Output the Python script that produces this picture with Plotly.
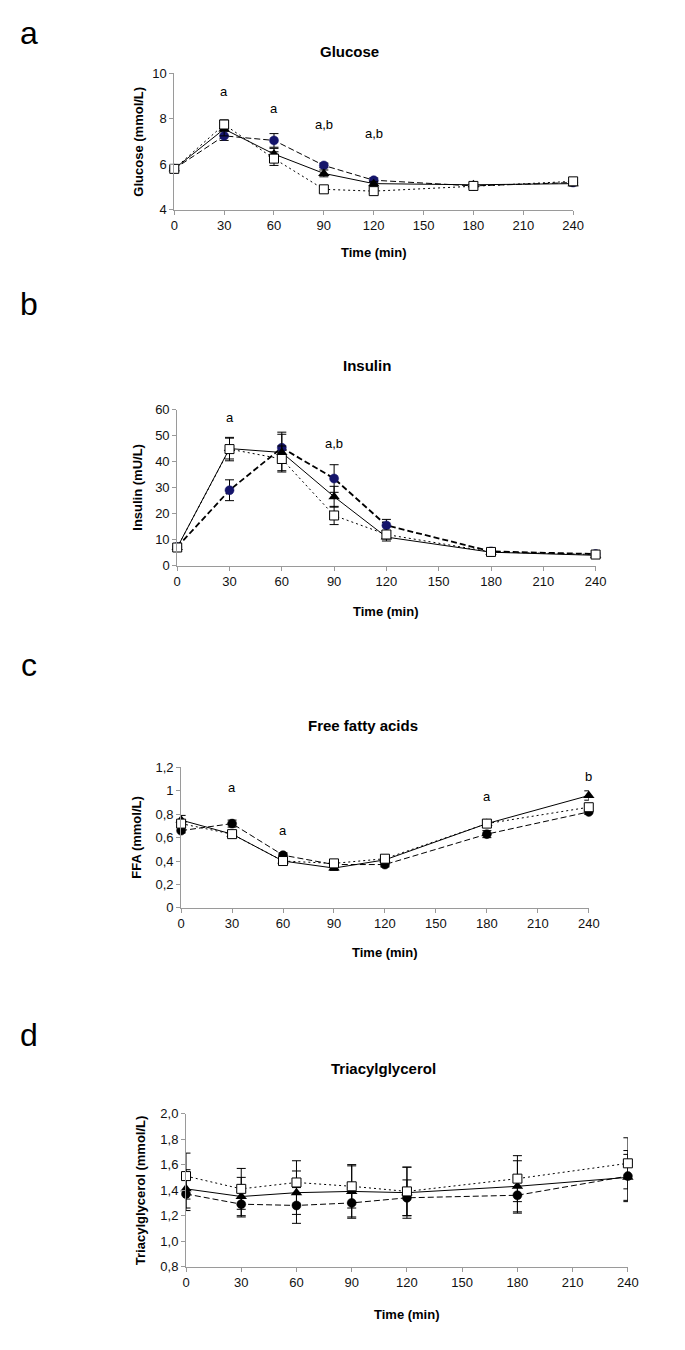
import plotly.graph_objects as go

# page is 685x1350; browser body has an 8px margin, so the figure is shrunk by it
PAGE_W, PAGE_H = 685, 1350
OFF = 8
W, H = PAGE_W - 2 * OFF, PAGE_H - 2 * OFF

times = [0, 30, 60, 90, 120, 180, 240]
x_ticks = [0, 30, 60, 90, 120, 150, 180, 210, 240]

# Glucose (mmol/L)
glu_tri = [5.8, 7.55, 6.45, 5.6, 5.15, 5.1, 5.15]
glu_tri_err = [0.1, 0.3, 0.25, 0.15, 0.1, 0.1, 0.1]
glu_circ = [5.8, 7.25, 7.05, 5.95, 5.3, 5.05, 5.2]
glu_circ_err = [0.1, 0.2, 0.3, 0.1, 0.1, 0.1, 0.1]
glu_sq = [5.8, 7.75, 6.25, 4.9, 4.82, 5.05, 5.25]
glu_sq_err = [0.1, 0.2, 0.3, 0.15, 0.1, 0.1, 0.1]
glu_yticks = [4, 6, 8, 10]
glu_yticktext = ["4", "6", "8", "10"]
glu_sig_x = [30, 60, 90, 120]
glu_sig_y = [9.2, 8.45, 7.75, 7.35]
glu_sig_text = ["a", "a", "a,b", "a,b"]

# Insulin (mU/L)
ins_tri = [7.0, 45.0, 43.5, 26.5, 11.0, 5.2, 4.0]
ins_tri_err = [1.0, 4.0, 7.0, 4.0, 1.5, 0.8, 0.8]
ins_circ = [7.2, 29.0, 45.3, 33.5, 15.5, 5.5, 4.5]
ins_circ_err = [1.0, 4.0, 6.0, 5.3, 2.3, 0.8, 0.8]
ins_sq = [7.0, 44.8, 41.0, 19.3, 12.0, 5.3, 4.3]
ins_sq_err = [1.0, 4.5, 5.0, 3.5, 1.5, 0.8, 0.8]
ins_yticks = [0, 10, 20, 30, 40, 50, 60]
ins_yticktext = ["0", "10", "20", "30", "40", "50", "60"]
ins_sig_x = [30, 90]
ins_sig_y = [57, 47]
ins_sig_text = ["a", "a,b"]

# Free fatty acids (mmol/L)
ffa_tri = [0.75, 0.63, 0.40, 0.34, 0.41, 0.72, 0.96]
ffa_tri_err = [0.04, 0.02, 0.02, 0.02, 0.02, 0.03, 0.04]
ffa_circ = [0.66, 0.72, 0.45, 0.37, 0.37, 0.63, 0.82]
ffa_circ_err = [0.02, 0.03, 0.02, 0.02, 0.02, 0.03, 0.02]
ffa_sq = [0.72, 0.63, 0.40, 0.38, 0.42, 0.72, 0.86]
ffa_sq_err = [0.02, 0.02, 0.02, 0.02, 0.02, 0.03, 0.02]
ffa_yticks = [0, 0.2, 0.4, 0.6, 0.8, 1.0, 1.2]
ffa_yticktext = ["0", "0,2", "0,4", "0,6", "0,8", "1", "1,2"]
ffa_sig_x = [30, 60, 180, 240]
ffa_sig_y = [1.025, 0.665, 0.95, 1.12]
ffa_sig_text = ["a", "a", "a", "b"]

# Triacylglycerol (mmol/L)
tag_tri = [1.41, 1.35, 1.38, 1.39, 1.38, 1.43, 1.50]
tag_tri_err = [0.15, 0.15, 0.17, 0.2, 0.2, 0.2, 0.18]
tag_circ = [1.37, 1.29, 1.28, 1.30, 1.34, 1.36, 1.51]
tag_circ_err = [0.13, 0.1, 0.14, 0.12, 0.14, 0.14, 0.2]
tag_sq = [1.51, 1.41, 1.46, 1.43, 1.39, 1.49, 1.61]
tag_sq_err = [0.18, 0.16, 0.17, 0.17, 0.19, 0.18, 0.2]
tag_yticks = [0.8, 1.0, 1.2, 1.4, 1.6, 1.8, 2.0]
tag_yticktext = ["0,8", "1,0", "1,2", "1,4", "1,6", "1,8", "2,0"]

FONT = "Liberation Sans, Arial, sans-serif"
NAVY = "#15156b"


def px_x(p):
    return (p - OFF) / W


def px_y(p):
    return 1 - (p - OFF) / H


panels = [
    dict(n="", letter="a", letter_y=26, title="Glucose", title_xy=(353, 45),
         ytitle="Glucose (mmol/L)", ytitle_x=137,
         xt_y=248, xdom=(174, 582), ydom=(205, 67), yr=(4, 10),
         yticks=glu_yticks, ytt=glu_yticktext,
         tri=(glu_tri, glu_tri_err), circ=(glu_circ, glu_circ_err), sq=(glu_sq, glu_sq_err),
         circ_color=NAVY, circ_w=1.0,
         sig=(glu_sig_x, glu_sig_y, glu_sig_text)),
    dict(n="2", letter="b", letter_y=300, title="Insulin", title_xy=(371, 362),
         ytitle="Insulin (mU/L)", ytitle_x=137,
         xt_y=611, xdom=(177, 605), ydom=(565, 407), yr=(0, 60),
         yticks=ins_yticks, ytt=ins_yticktext,
         tri=(ins_tri, ins_tri_err), circ=(ins_circ, ins_circ_err), sq=(ins_sq, ins_sq_err),
         circ_color=NAVY, circ_w=1.8,
         sig=(ins_sig_x, ins_sig_y, ins_sig_text)),
    dict(n="3", letter="c", letter_y=665, title="Free fatty acids", title_xy=(367, 727),
         ytitle="FFA (mmol/L)", ytitle_x=136,
         xt_y=956, xdom=(181, 598), ydom=(911, 769), yr=(0, 1.2),
         yticks=ffa_yticks, ytt=ffa_yticktext,
         tri=(ffa_tri, ffa_tri_err), circ=(ffa_circ, ffa_circ_err), sq=(ffa_sq, ffa_sq_err),
         circ_color="black", circ_w=1.0,
         sig=(ffa_sig_x, ffa_sig_y, ffa_sig_text)),
    dict(n="4", letter="d", letter_y=1040, title="Triacylglycerol", title_xy=(388, 1073),
         ytitle="Triacylglycerol (mmol/L)", ytitle_x=139,
         xt_y=1322, xdom=(186, 638), ydom=(1274, 1119), yr=(0.8, 2.0),
         yticks=tag_yticks, ytt=tag_yticktext,
         tri=(tag_tri, tag_tri_err), circ=(tag_circ, tag_circ_err), sq=(tag_sq, tag_sq_err),
         circ_color="black", circ_w=1.0,
         sig=None),
]

fig = go.Figure()
annotations = []
layout_axes = {}

for p in panels:
    n = p["n"]
    xa = "x" + n
    ya = "y" + n
    common = dict(xaxis=xa, yaxis=ya, cliponaxis=False, showlegend=False, mode="lines+markers")
    err_style = dict(type="data", visible=True, color="black", thickness=1, width=4.5)
    # circle, dashed
    fig.add_trace(go.Scatter(
        x=times, y=p["circ"][0],
        error_y=dict(array=p["circ"][1], **err_style),
        line=dict(color="black", width=p["circ_w"], dash="6px,3px"),
        marker=dict(symbol="circle", size=9, color=p["circ_color"],
                    line=dict(color=p["circ_color"], width=0.5)),
        **common))
    # triangle, solid
    fig.add_trace(go.Scatter(
        x=times, y=p["tri"][0],
        error_y=dict(array=p["tri"][1], **err_style),
        line=dict(color="black", width=1),
        marker=dict(symbol="triangle-up", size=10, color="black"),
        **common))
    # square, dotted
    fig.add_trace(go.Scatter(
        x=times, y=p["sq"][0],
        error_y=dict(array=p["sq"][1], **err_style),
        line=dict(color="black", width=1, dash="2px,3px"),
        marker=dict(symbol="square", size=9, color="white",
                    line=dict(color="black", width=1)),
        **common))

    axis_common = dict(showline=True, linecolor="#9a9a9a", linewidth=1,
                       ticks="outside", ticklen=4, tickcolor="#9a9a9a",
                       showgrid=False, zeroline=False,
                       tickfont=dict(family=FONT, size=13, color="#111"))
    layout_axes["xaxis" + n] = dict(
        domain=[px_x(p["xdom"][0]), px_x(p["xdom"][1])],
        anchor=ya, range=[0, 240], tickmode="array", tickvals=x_ticks,
        ticktext=[str(t) for t in x_ticks], **axis_common)
    layout_axes["yaxis" + n] = dict(
        domain=[px_y(p["ydom"][0]), px_y(p["ydom"][1])],
        anchor=xa, range=list(p["yr"]), tickmode="array", tickvals=p["yticks"],
        ticktext=p["ytt"], **axis_common)

    # panel letter
    annotations.append(dict(text=p["letter"], x=px_x(25), y=px_y(p["letter_y"]),
                            xref="paper", yref="paper", showarrow=False,
                            xanchor="center", yanchor="middle",
                            font=dict(family=FONT, size=32, color="black")))
    # panel title
    annotations.append(dict(text="<b>" + p["title"] + "</b>", x=px_x(p["title_xy"][0]),
                            y=px_y(p["title_xy"][1]), xref="paper", yref="paper",
                            showarrow=False, xanchor="center", yanchor="middle",
                            font=dict(family=FONT, size=15, color="black")))
    # y title
    ymid = (p["ydom"][0] + p["ydom"][1]) / 2
    annotations.append(dict(text="<b>" + p["ytitle"] + "</b>", x=px_x(p["ytitle_x"]),
                            y=px_y(ymid), xref="paper", yref="paper", textangle=-90,
                            showarrow=False, xanchor="center", yanchor="middle",
                            font=dict(family=FONT, size=13, color="black")))
    # x title
    xmid = (p["xdom"][0] + p["xdom"][1]) / 2
    annotations.append(dict(text="<b>Time (min)</b>", x=px_x(xmid), y=px_y(p["xt_y"]),
                            xref="paper", yref="paper", showarrow=False,
                            xanchor="center", yanchor="middle",
                            font=dict(family=FONT, size=13, color="black")))
    # significance letters
    if p["sig"]:
        for sx, sy, st in zip(*p["sig"]):
            annotations.append(dict(text=st, x=sx, y=sy, xref=xa, yref=ya,
                                    showarrow=False, xanchor="center", yanchor="middle",
                                    font=dict(family=FONT, size=13, color="black")))

fig.update_layout(
    width=W, height=H,
    margin=dict(l=0, r=0, t=0, b=0),
    paper_bgcolor="white", plot_bgcolor="white",
    annotations=annotations,
    **layout_axes,
)

fig.write_html("out.html")
